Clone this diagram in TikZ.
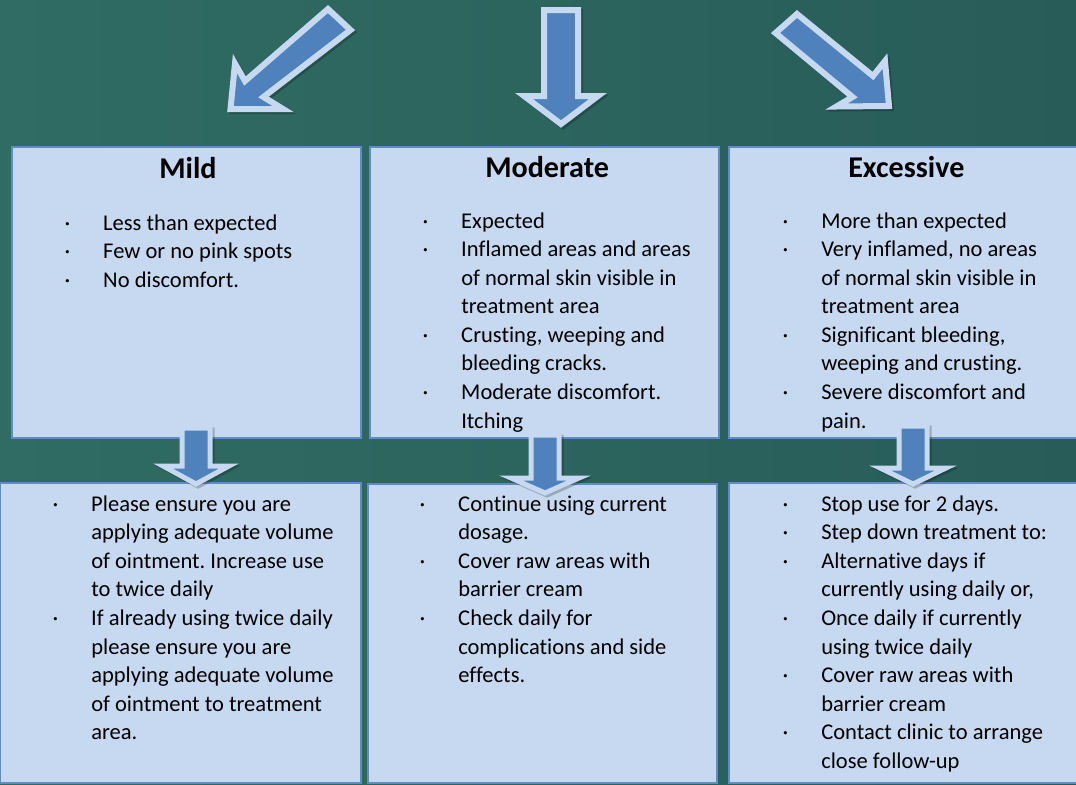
\documentclass[tikz,border=0pt]{standalone}
\usepackage{fontspec}
\setmainfont{Carlito}[Ligatures={NoCommon,NoContextual,NoRequired}]
\usetikzlibrary{fit}

% one drawing unit = 0.75pt
\newdimen\pxu
\pxu=0.75pt

% keeps two letters apart so the font sets no ligature
\newcommand\nj{\kern0pt }

\definecolor{bgleft}{RGB}{48,108,99}
\definecolor{bgmid}{RGB}{66,127,114}
\definecolor{bgright}{RGB}{40,92,89}
\definecolor{panelfill}{RGB}{198,217,241}
\definecolor{panelline}{RGB}{96,139,197}
\definecolor{arrowfill}{RGB}{79,129,189}
\definecolor{arrowrim}{RGB}{198,217,241}

% bulleted entry: the dot hangs to the left of the text column
\newcommand\itm{\par\noindent\llap{·\hspace{33\pxu}}}
\newcommand\listbox[1]{\parbox[t]{360\pxu}{\frenchspacing\fontsize{16.9pt}{21.45pt}\selectfont #1}}

\tikzset{
  panel/.style={draw=panelline, fill=panelfill, line width=1.2\pxu, inner sep=0pt},
  heading/.style={anchor=base west, inner sep=0pt,
    font=\fontsize{22.6pt}{27pt}\selectfont\bfseries},
  listtext/.style={anchor=base west, inner sep=0pt},
  blockarrow/.style={fill=arrowfill, draw=arrowrim, line width=6\pxu, miter limit=20},
  droparrow/.style={fill=arrowfill, draw=arrowrim, line width=5\pxu, miter limit=20},
  arrowshadow/.style={fill=black, draw=black, opacity=0.22, shift={(2,2)}},
  pics/leftshape/.style={code={
    \path[pic actions] (328,9) -- (350.5,30) -- (263.5,97) -- (283,109)
      -- (230.5,109) -- (235,63.5) -- (245,81) -- cycle;}},
  pics/midshape/.style={code={
    \path[pic actions] (544,10) -- (578,10) -- (578,96) -- (598,96)
      -- (561,124) -- (524,96) -- (544,96) -- cycle;}},
  pics/rightshape/.style={code={
    \path[pic actions] (797,14) -- (775.5,33) -- (852.5,97) -- (836.5,106.5)
      -- (889,106) -- (885,61) -- (873,76) -- cycle;}},
  pics/dropshape/.style n args={3}{code={
    \path[pic actions] (-14,0) -- (14,0) -- (14,#1) -- (#3,#1)
      -- (0,#2) -- (-#3,#1) -- (-14,#1) -- cycle;}},
}

\begin{document}
\begin{tikzpicture}[x=0.75pt, y=-0.75pt]
\useasboundingbox (0,0) rectangle (1076,785);
\clip (0,0) rectangle (1076,785);

% backdrop
\shade[left color=bgleft, middle color=bgmid, right color=bgright]
  (0,0) rectangle (1076,785);

% three pointers at the top
\foreach \shape in {leftshape, midshape, rightshape} {
  \pic[arrowshadow, line width=6\pxu] {\shape};
  \pic[blockarrow] {\shape};
}

% severity panels
\node[panel, fit={(12,147) (361,438)}] (mild) {};
\node[panel, fit={(370,147) (719,438)}] (moderate) {};
\node[panel, fit={(729,147) (1090,438)}] (excessive) {};

% action panels
\node[panel, fit={(0.6,483) (361,783)}] (mildact) {};
\node[panel, fit={(368,484) (717,783)}] (moderateact) {};
\node[panel, fit={(729,483) (1090,783)}] (excessiveact) {};

% pointers from each severity panel to its actions
\pic[arrowshadow, line width=5\pxu] at (196,428) {dropshape={38}{56}{33}};
\pic[droparrow] at (196,428) {dropshape={38}{56}{33}};
\pic[arrowshadow, line width=5\pxu] at (545,435) {dropshape={43}{58}{34}};
\pic[droparrow] at (545,435) {dropshape={43}{58}{34}};
\pic[arrowshadow, line width=5\pxu] at (913,426) {dropshape={42}{58}{33}};
\pic[droparrow] at (913,426) {dropshape={42}{58}{33}};

% headings
\node[heading] (mildtitle) at (159,178) {Mild};
\node[heading] (moderatetitle) at (485,177) {Moderate};
\node[heading] (excessivetitle) at (848,177) {Excessive};

% signs
\node[listtext] (mildsigns) at (103,230) {\listbox{%
  \itm Less than expected
  \itm Few or no pink spots
  \itm No discomfort.}};
\node[listtext] (moderatesigns) at (461,228) {\listbox{%
  \itm Expected
  \itm Inf\nj lamed areas and areas\newline of normal skin visible in\newline treatment area
  \itm Crust\nj ing, weeping and\newline bleeding cracks.
  \itm Moderate discomfort.\newline Itching}};
\node[listtext] (excessivesigns) at (821,228) {\listbox{%
  \itm More than expected
  \itm Very inf\nj lamed, no areas\newline of normal skin visible in\newline treatment area
  \itm Signif\nj icant bleeding,\newline weeping and crust\nj ing.
  \itm Severe discomfort and\newline pain.}};

% actions
\node[listtext] (mildsteps) at (91,511) {\listbox{%
  \itm Please ensure you are\newline applying adequate volume\newline of ointment. Increase use\newline to twice daily
  \itm If already using twice daily\newline please ensure you are\newline applying adequate volume\newline of ointment to treatment\newline area.}};
\node[listtext] (moderatesteps) at (458,511) {\listbox{%
  \itm Cont\nj inue using current\newline dosage.
  \itm Cover raw areas with\newline barrier cream
  \itm Check daily for\newline complicat\nj ions and side\newline ef\nj fects.}};
\node[listtext] (excessivesteps) at (821,511) {\listbox{%
  \itm Stop use for 2 days.
  \itm Step down treatment to:
  \itm Alternat\nj ive days if\newline currently using daily or,
  \itm Once daily if currently\newline using twice daily
  \itm Cover raw areas with\newline barrier cream
  \itm Contact clinic to arrange\newline close follow-up}};
\end{tikzpicture}
\end{document}
